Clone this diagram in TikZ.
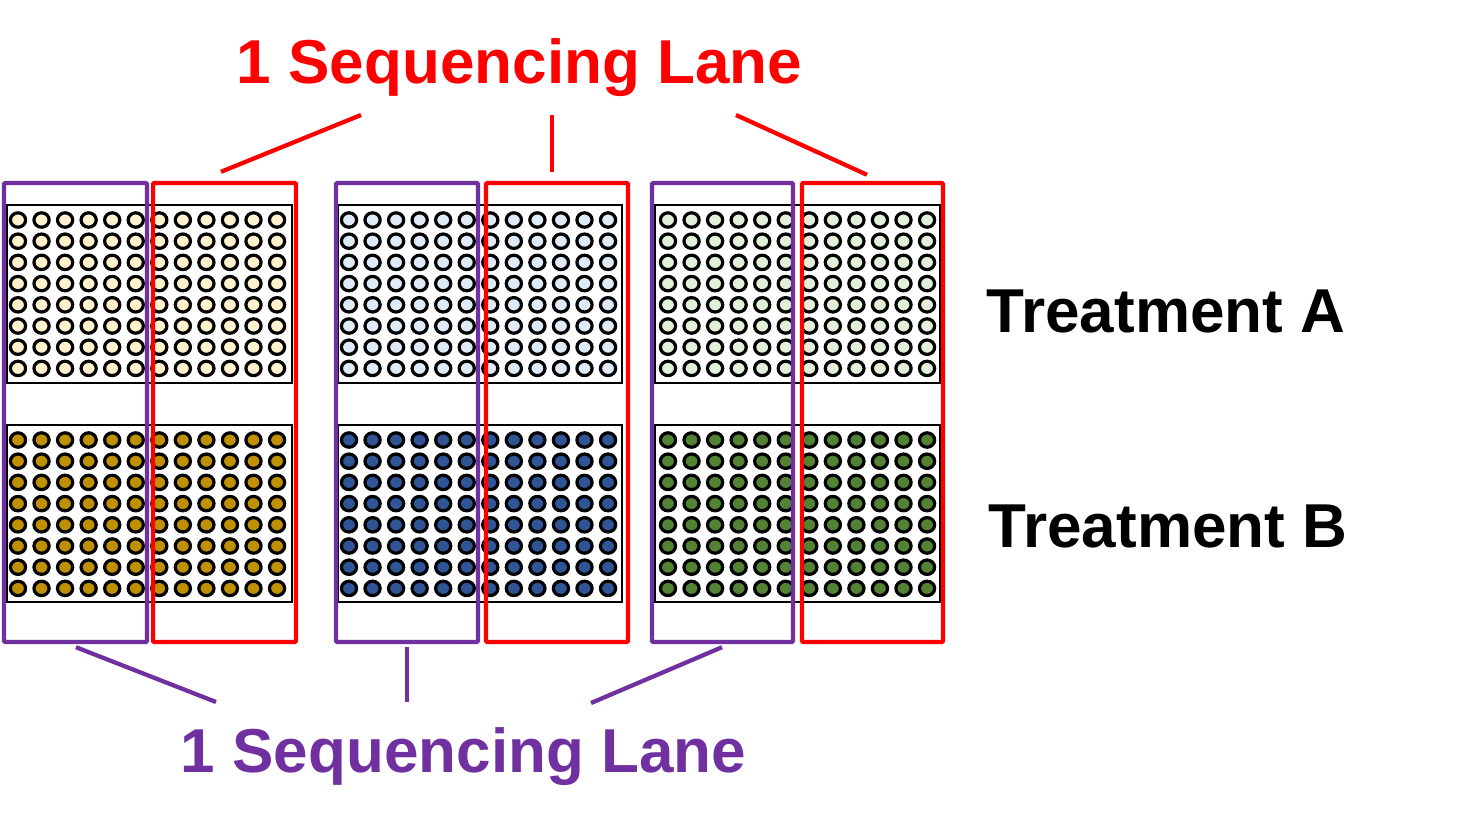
\documentclass[tikz,border=0pt]{standalone}
\usepackage{fontspec}
\setmainfont{Liberation Sans}
\usetikzlibrary{calc}
\definecolor{lanered}{HTML}{FF0000}
\definecolor{lanepurple}{HTML}{7030A0}
\definecolor{creamA}{HTML}{FFF2CC}
\definecolor{goldB}{HTML}{BF9000}
\definecolor{blueA}{HTML}{DEEBF7}
\definecolor{blueB}{HTML}{2F5597}
\definecolor{greenA}{HTML}{E2F0D9}
\definecolor{greenB}{HTML}{548235}
\tikzset{
  well/.style={draw=black, line width=2.4pt},
  plate/.style={draw=black, line width=1.1pt},
  lanebox/.style={draw, line width=3.3pt, rounded corners=1pt, inner sep=0pt, minimum height=344.25pt},
  laneP/.style={lanebox, draw=lanepurple},
  laneR/.style={lanebox, draw=lanered},
  conR/.style={draw=lanered, line width=3.2pt},
  conP/.style={draw=lanepurple, line width=3.2pt},
  bigtext/.style={font=\fontsize{46.5}{56}\selectfont\bfseries, inner sep=0pt, anchor=base}
}
\begin{document}
\begin{tikzpicture}[x=0.75pt, y=-0.75pt]
\useasboundingbox (0,0) rectangle (1483,822);
% plates
\foreach \px/\cx/\pr/\ca/\cb in {7/18/292/creamA/goldB, 338/349/622/blueA/blueB, 655/668/940/greenA/greenB}{
  \draw[plate, fill=white] (\px,205) rectangle (\pr,383);
  \draw[plate, fill=white] (\px,425) rectangle (\pr,602);
  \foreach \i in {0,...,11}{
    \foreach \j in {0,...,7}{
      \draw[well, fill=\ca] ({\cx+23.55*\i},{220+21.2*\j}) circle[x radius=7.6, y radius=7.2];
      \draw[well, fill=\cb] ({\cx+23.55*\i},{440+21.2*\j}) circle[x radius=7.6, y radius=7.2];
    }
  }
}
% lane boxes
\node[laneP, minimum width=107.25pt] (p1) at (75.5,412.5) {};
\node[laneR, minimum width=107.25pt] (r1) at (224.5,412.5) {};
\node[laneP, minimum width=106.5pt] (p2) at (407,412.5) {};
\node[laneR, minimum width=106.5pt] (r2) at (557,412.5) {};
\node[laneP, minimum width=105.75pt] (p3) at (722.5,412.5) {};
\node[laneR, minimum width=105.75pt] (r3) at (872.5,412.5) {};
% labels
\node[bigtext, text=lanered] (tr) at (519.5,83) {1 Sequencing Lane};
\node[bigtext, text=lanepurple] (tp) at (463.5,772) {1 Sequencing Lane};
\node[bigtext] (ta) at (1166,332) {Treatment A};
\node[bigtext] (tb) at (1168,547) {Treatment B};
% connector end points
\coordinate (rt1) at (361,115);
\coordinate (rt2) at (552,115);
\coordinate (rt3) at (736,115);
\coordinate (pb1) at (216,702);
\coordinate (pb2) at (407,702);
\coordinate (pb3) at (591,703);
\draw[conR] ($(r1.north)+(-3.5,-9)$) -- (rt1);
\draw[conR] ($(r2.north)+(-5,-9)$) -- (rt2);
\draw[conR] ($(r3.north)+(-5.5,-6)$) -- (rt3);
\draw[conP] ($(p1.south)+(0.5,3)$) -- (pb1);
\draw[conP] ($(p2.south)+(0,3)$) -- (pb2);
\draw[conP] ($(p3.south)+(-0.5,3)$) -- (pb3);
\end{tikzpicture}
\end{document}
